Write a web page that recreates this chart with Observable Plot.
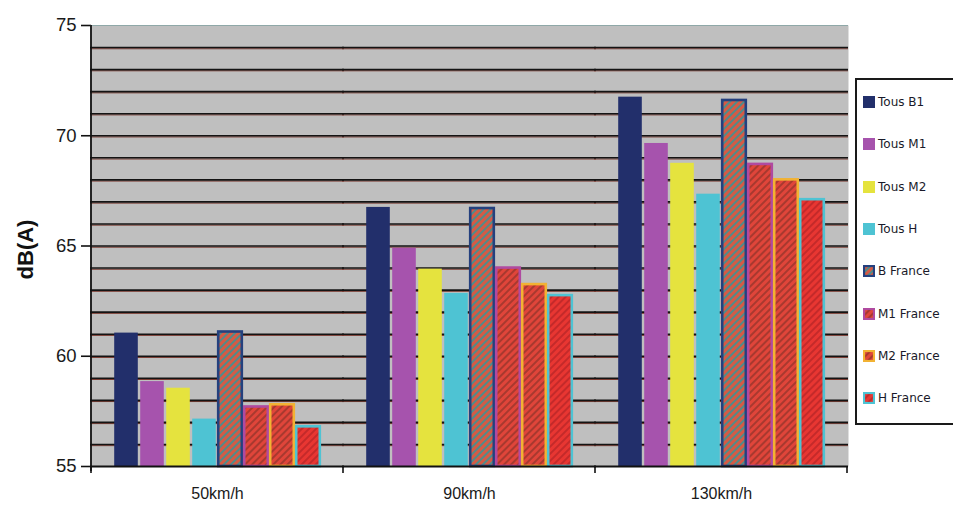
<!DOCTYPE html>
<html>
<head>
<meta charset="utf-8">
<script src="https://cdn.jsdelivr.net/npm/d3@7"></script>
<script src="https://cdn.jsdelivr.net/npm/@observablehq/plot@0.6"></script>
<style>
  html, body { margin: 0; padding: 0; background: #fff; overflow: hidden; }
  #wrap { position: relative; width: 953px; height: 507px; }
  #legend { position: absolute; left: 855px; top: 78px; width: 120px; height: 343px;
    border: 2px solid #1a1a1a; background: #fff; font-family: "DejaVu Sans", Verdana, sans-serif;
    font-size: 12px; color: #1a1a2a; }
  .item { position: absolute; left: 6px; height: 14px; display: flex; align-items: center; white-space: nowrap; }
  .item svg { margin-right: 3px; }
</style>
</head>
<body>
<div id="wrap"><div id="chart"></div><div id="legend"></div></div>
<script>
const speeds = ["50km/h", "90km/h", "130km/h"];
const series = ["Tous B1", "Tous M1", "Tous M2", "Tous H", "B France", "M1 France", "M2 France", "H France"];
const tousB1 = [61.05, 66.75, 71.75];
const tousM1 = [58.85, 64.9, 69.65];
const tousM2 = [58.55, 63.95, 68.75];
const tousH = [57.15, 62.85, 67.35];
const bFrance = [61.1, 66.7, 71.6];
const m1France = [57.7, 64.0, 68.7];
const m2France = [57.8, 63.25, 68.0];
const hFrance = [56.8, 62.75, 67.1];
const yTicks = [55, 60, 65, 70, 75];
const yLabel = "dB(A)";

const values = [tousB1, tousM1, tousM2, tousH, bFrance, m1France, m2France, hFrance];
const strokeColors = ["#222f6b", "#a653ad", "#e5e33e", "#4ec3d3", "#24407e", "#b04aa0", "#f2b233", "#4ec3d3"];
const patternDefs = [
  null, null, null, null,
  {id: "hB", base: "#d65a44", stripe: "#4f8c8a"},
  {id: "hM1", base: "#e0453a", stripe: "#a8392f"},
  {id: "hM2", base: "#e0453a", stripe: "#a8392f"},
  {id: "hH", base: "#e83632", stripe: "#c42a2a"}
];
const fills = series.map((s, i) => patternDefs[i] ? `url(#${patternDefs[i].id})` : strokeColors[i]);

const rows = [];
speeds.forEach((sp, j) => series.forEach((s, i) => rows.push({speed: sp, series: s, value: values[i][j], i})));
const base = yTicks[0];
const grid = d3.range(yTicks[0] + 1, yTicks[yTicks.length - 1]);

const chart = Plot.plot({
  width: 953,
  height: 507,
  marginLeft: 90,
  marginRight: 105,
  marginTop: 25,
  marginBottom: 41,
  style: {fontFamily: "'Liberation Sans', Arial, sans-serif", fontSize: "15px", background: "transparent", color: "#222"},
  facet: {data: rows, x: "speed"},
  fx: {domain: speeds, padding: 0, label: null, tickSize: 0, tickPadding: 21},
  x: {domain: series, paddingInner: 0, paddingOuter: 0.76, axis: null},
  y: {domain: [yTicks[0], yTicks[yTicks.length - 1]], ticks: yTicks, tickSize: 10, tickPadding: 5, label: null},
  color: {type: "identity"},
  marks: [
    Plot.frame({fill: "#bfbfbf", stroke: null, insetLeft: -1, insetRight: -1}),
    Plot.ruleY(grid, {stroke: "#7a3a30", strokeWidth: 1, dy: 1.2, insetLeft: -1, insetRight: -1}),
    Plot.ruleY(grid, {stroke: "#141414", strokeWidth: 1.6, insetLeft: -1, insetRight: -1}),
    Plot.ruleY([yTicks[yTicks.length - 1]], {stroke: "#8fa8a8", strokeWidth: 1, insetLeft: -1, insetRight: -1}),
    Plot.barY(rows, {
      x: "series", y1: () => base, y2: "value",
      fill: d => fills[d.i],
      stroke: d => patternDefs[d.i] ? strokeColors[d.i] : "none",
      strokeWidth: 2.6, insetLeft: 1.2, insetRight: 1.2
    }),
    Plot.ruleY([base], {stroke: "#111", strokeWidth: 1.8, insetLeft: -1, insetRight: -1})
  ]
});
document.getElementById("chart").appendChild(chart);

const svg = d3.select(chart);
const defs = svg.insert("defs", ":first-child");
patternDefs.filter(Boolean).forEach(p => {
  const pat = defs.append("pattern").attr("id", p.id).attr("patternUnits", "userSpaceOnUse")
    .attr("width", 5).attr("height", 5).attr("patternTransform", "rotate(45)");
  pat.append("rect").attr("width", 5).attr("height", 5).attr("fill", p.base);
  pat.append("rect").attr("width", 2).attr("height", 5).attr("fill", p.stripe);
});
const ys = chart.scale("y");
const fxs = chart.scale("fx");
const yTop = ys.apply(yTicks[yTicks.length - 1]), yBot = ys.apply(yTicks[0]);
const xLeft = fxs.apply(speeds[0]);
const xRight = fxs.apply(speeds[speeds.length - 1]) + fxs.bandwidth;
const ov = svg.append("g");
ov.append("line").attr("x1", xLeft).attr("x2", xLeft).attr("y1", yTop).attr("y2", yBot + 5)
  .attr("stroke", "#111").attr("stroke-width", 1.8);
speeds.forEach(s => {
  const x = fxs.apply(s);
  ov.append("line").attr("x1", x).attr("x2", x).attr("y1", yBot).attr("y2", yBot + 7).attr("stroke", "#111").attr("stroke-width", 1.6);
});
ov.append("line").attr("x1", xRight).attr("x2", xRight).attr("y1", yBot).attr("y2", yBot + 7).attr("stroke", "#111").attr("stroke-width", 1.6);
svg.selectAll('[aria-label^="y-axis"] text').attr("font-size", 18.5).attr("fill", "#1a1a1a");
svg.selectAll('[aria-label^="y-axis"] line, [aria-label^="y-axis"] path').attr("stroke", "#111").attr("stroke-width", 1.6);
svg.selectAll('[aria-label^="fx-axis"] text').attr("font-size", 16).attr("fill", "#1a1a1a");
ov.append("text").text(yLabel).attr("transform", `translate(33,${(yTop + yBot) / 2 + 4}) rotate(-90)`)
  .attr("text-anchor", "middle").attr("font-weight", "bold").attr("font-size", 22)
  .attr("font-family", "'Liberation Sans', Arial, sans-serif").attr("fill", "#111");

const legend = document.getElementById("legend");
series.forEach((s, i) => {
  const it = document.createElement("div");
  it.className = "item";
  it.style.top = (15 + i * 42.3) + "px";
  const p = patternDefs[i];
  const sw = p
    ? `<svg width="12" height="12"><rect x="1" y="1" width="10" height="10" fill="url(#${p.id})" stroke="${strokeColors[i]}" stroke-width="2.2"/></svg>`
    : `<svg width="12" height="12"><rect x="0" y="0" width="12" height="12" fill="${strokeColors[i]}"/></svg>`;
  it.innerHTML = sw + `<span>${s}</span>`;
  legend.appendChild(it);
});
</script>
</body>
</html>
